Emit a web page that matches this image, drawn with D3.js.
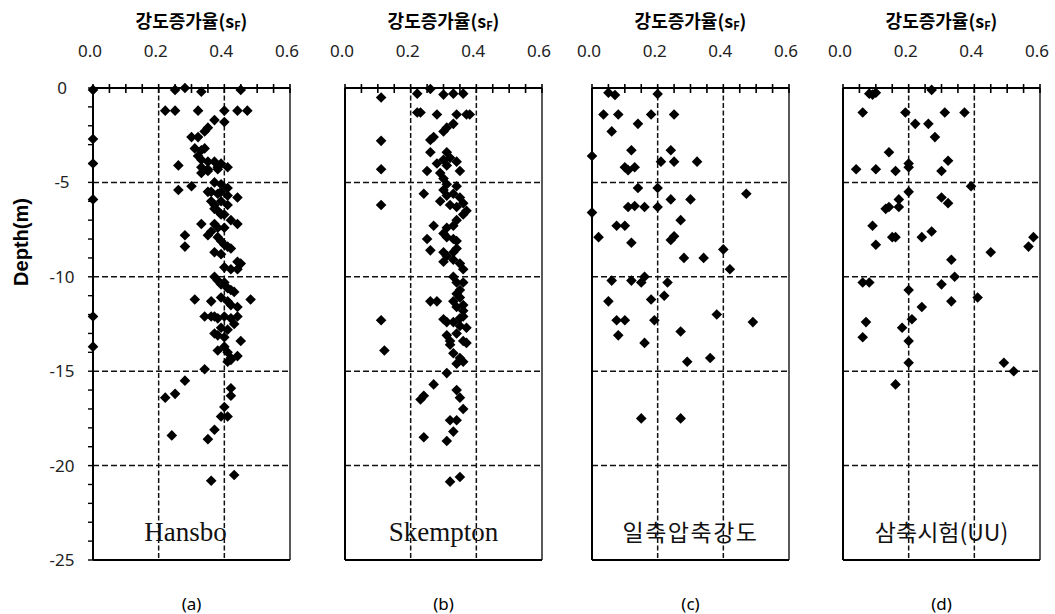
<!DOCTYPE html>
<html>
<head>
<meta charset="utf-8">
<script src="https://cdn.jsdelivr.net/npm/d3@7"></script>
<style>
  body { margin: 0; background: #fff; }
  svg { display: block; }
</style>
</head>
<body>
<div id="chart"></div>
<script>
// panel captions and tick labels
var panelNames = ["Hansbo", "Skempton", "일축압축강도", "삼축시험(UU)"];
var panelTags = ["(a)", "(b)", "(c)", "(d)"];
var xTicks = [0, 0.2, 0.4, 0.6];
var yTicks = [0, -5, -10, -15, -20, -25];

// [strength increase ratio sF, depth m]
var hansbo = [
  [0.00,-0.1],[0.25,-0.1],[0.28,0.0],[0.33,-0.2],[0.45,-0.1],
  [0.22,-1.2],[0.25,-1.2],[0.32,-1.2],[0.40,-1.2],[0.44,-1.2],[0.47,-1.2],
  [0.37,-1.7],[0.40,-1.8],[0.35,-2.1],[0.34,-2.3],[0.32,-2.6],[0.30,-2.6],[0.00,-2.7],
  [0.31,-3.2],[0.33,-3.3],[0.34,-3.2],[0.32,-3.6],[0.33,-3.8],[0.35,-3.9],[0.37,-3.9],[0.39,-4.0],[0.38,-4.2],
  [0.26,-4.1],[0.33,-4.2],[0.35,-4.3],[0.38,-4.3],[0.41,-4.2],[0.00,-4.0],
  [0.33,-4.5],[0.35,-4.4],[0.37,-5.0],[0.39,-5.1],[0.41,-5.3],
  [0.26,-5.4],[0.30,-5.2],[0.35,-5.5],[0.36,-5.5],[0.38,-5.6],[0.39,-5.5],[0.41,-5.7],[0.00,-5.9],[0.44,-5.8],
  [0.36,-6.0],[0.37,-6.2],[0.39,-6.0],[0.41,-6.2],[0.37,-6.4],[0.38,-6.5],[0.39,-6.7],[0.40,-6.7],[0.42,-7.0],[0.40,-7.4],
  [0.33,-7.2],[0.37,-7.2],[0.38,-7.4],[0.36,-7.6],[0.35,-7.8],[0.44,-7.2],[0.28,-7.8],[0.28,-8.4],
  [0.38,-7.9],[0.39,-8.1],[0.40,-8.3],[0.41,-8.4],[0.42,-8.5],[0.37,-8.7],[0.39,-8.8],
  [0.44,-9.2],[0.45,-9.3],[0.44,-9.6],[0.40,-9.5],[0.42,-9.6],
  [0.37,-10.0],[0.38,-10.2],[0.39,-10.4],[0.40,-10.3],[0.41,-10.6],[0.42,-10.7],[0.43,-10.8],
  [0.31,-11.2],[0.36,-11.3],[0.39,-11.1],[0.41,-11.3],[0.42,-11.5],[0.44,-11.6],[0.48,-11.2],
  [0.00,-12.1],[0.34,-12.1],[0.36,-12.1],[0.37,-12.1],[0.38,-12.2],[0.40,-12.1],[0.42,-12.2],[0.44,-12.1],[0.43,-12.5],
  [0.39,-12.7],[0.41,-12.8],[0.37,-13.0],[0.38,-13.1],[0.45,-13.4],[0.40,-13.2],
  [0.00,-13.7],[0.38,-13.9],[0.40,-13.7],[0.41,-14.0],[0.42,-14.3],[0.41,-14.5],[0.42,-14.4],[0.44,-14.2],
  [0.34,-14.9],[0.28,-15.5],[0.22,-16.4],[0.25,-16.2],[0.42,-15.9],[0.42,-16.3],[0.40,-16.9],
  [0.39,-17.4],[0.41,-17.4],[0.37,-18.1],[0.35,-18.6],[0.24,-18.4],[0.36,-20.8],[0.43,-20.5]
];

var skempton = [
  [0.11,-0.5],[0.22,-0.3],[0.26,-0.05],[0.30,-0.35],[0.33,-0.3],[0.36,-0.3],
  [0.22,-1.3],[0.23,-1.3],[0.28,-1.4],[0.34,-1.4],[0.37,-1.4],[0.38,-1.4],
  [0.33,-1.9],[0.31,-2.1],[0.30,-2.3],[0.27,-2.6],[0.26,-2.75],[0.11,-2.8],
  [0.26,-3.4],[0.31,-3.4],[0.32,-3.7],[0.30,-3.8],[0.28,-4.0],[0.31,-4.1],[0.34,-3.9],[0.35,-4.4],[0.11,-4.3],
  [0.25,-4.4],[0.29,-4.5],[0.30,-4.8],
  [0.31,-5.1],[0.34,-5.2],[0.24,-5.6],[0.30,-5.4],[0.31,-5.7],[0.33,-5.6],[0.35,-5.8],[0.29,-6.0],
  [0.32,-6.2],[0.34,-6.3],[0.36,-6.1],[0.37,-6.5],[0.36,-6.7],[0.11,-6.2],
  [0.34,-7.0],[0.33,-7.3],[0.31,-7.4],[0.30,-7.7],[0.27,-7.3],[0.31,-7.9],[0.33,-8.0],[0.34,-8.1],[0.25,-8.0],[0.26,-8.6],
  [0.30,-8.7],[0.31,-8.9],[0.33,-8.7],[0.34,-8.5],[0.30,-9.2],[0.33,-9.1],[0.35,-9.3],[0.36,-9.6],
  [0.33,-10.0],[0.34,-10.3],[0.36,-10.3],[0.35,-10.7],[0.34,-10.9],[0.35,-11.1],[0.33,-11.3],[0.34,-11.6],
  [0.36,-11.5],[0.36,-11.8],[0.26,-11.3],[0.28,-11.3],
  [0.11,-12.3],[0.30,-12.25],[0.31,-12.4],[0.33,-12.4],[0.35,-12.2],[0.36,-12.1],[0.35,-12.6],[0.37,-12.7],
  [0.31,-13.1],[0.34,-13.0],[0.32,-13.4],[0.36,-13.4],
  [0.12,-13.9],[0.32,-13.6],[0.37,-13.5],[0.33,-14.05],[0.35,-14.3],[0.36,-14.5],[0.34,-14.6],
  [0.31,-15.1],[0.27,-15.7],[0.24,-16.3],[0.23,-16.5],[0.34,-16.0],[0.35,-16.4],[0.36,-17.0],
  [0.32,-17.6],[0.34,-17.6],[0.33,-18.2],[0.24,-18.5],[0.31,-18.7],[0.32,-20.85],[0.35,-20.6]
];

var uniaxial = [
  [0.05,-0.25],[0.07,-0.37],[0.20,-0.32],
  [0.035,-1.4],[0.08,-1.4],[0.18,-1.4],[0.25,-1.4],[0.14,-1.9],[0.06,-2.3],
  [0.12,-3.3],[0.24,-3.3],[0.00,-3.6],[0.21,-3.9],[0.25,-3.9],[0.32,-3.9],[0.10,-4.2],[0.11,-4.35],[0.13,-4.2],
  [0.14,-5.3],[0.20,-5.3],[0.47,-5.6],[0.24,-5.9],[0.30,-5.9],
  [0.00,-6.6],[0.11,-6.3],[0.13,-6.25],[0.16,-6.3],[0.20,-6.3],[0.27,-7.0],[0.075,-7.3],[0.10,-7.3],
  [0.02,-7.9],[0.12,-8.2],[0.24,-8.05],[0.25,-7.85],
  [0.28,-9.0],[0.34,-9.0],[0.40,-8.55],[0.42,-9.6],
  [0.06,-10.2],[0.12,-10.2],[0.15,-10.3],[0.16,-10.0],[0.23,-10.3],[0.22,-11.0],[0.05,-11.3],[0.18,-11.2],
  [0.075,-12.3],[0.10,-12.3],[0.19,-12.3],[0.38,-12.0],[0.49,-12.4],[0.08,-13.1],[0.27,-12.9],[0.16,-13.5],
  [0.29,-14.5],[0.36,-14.3],[0.15,-17.5],[0.27,-17.5]
];

var triaxial = [
  [0.08,-0.3],[0.09,-0.35],[0.10,-0.25],[0.27,-0.1],
  [0.06,-1.3],[0.19,-1.3],[0.31,-1.3],[0.37,-1.3],[0.22,-1.9],[0.26,-1.9],[0.28,-2.6],
  [0.14,-3.4],[0.32,-3.85],[0.04,-4.3],[0.10,-4.3],[0.16,-4.4],[0.20,-4.0],[0.20,-4.2],[0.30,-4.4],
  [0.39,-5.2],[0.20,-5.5],[0.17,-5.9],[0.30,-5.8],[0.32,-6.1],[0.13,-6.4],[0.14,-6.3],[0.17,-6.3],
  [0.09,-7.3],[0.15,-7.9],[0.16,-7.9],[0.24,-7.9],[0.27,-7.6],[0.10,-8.3],[0.45,-8.7],[0.33,-9.1],
  [0.58,-7.9],[0.565,-8.4],
  [0.06,-10.3],[0.08,-10.3],[0.34,-10.0],[0.30,-10.4],[0.20,-10.7],[0.41,-11.1],[0.33,-11.3],[0.24,-11.6],
  [0.07,-12.4],[0.21,-12.25],[0.18,-12.7],[0.06,-13.2],[0.20,-13.4],[0.20,-14.55],[0.16,-15.7],
  [0.49,-14.55],[0.52,-15.0]
];

var panelData = [hansbo, skempton, uniaxial, triaxial];

var svgWidth = 1055;
var svgHeight = 614;
var lefts = [93, 345, 592, 843];
var pw = 197;
var plotTop = 88, plotBottom = 560;

var svg = d3.select("#chart")
    .append("svg")
    .attr("width", svgWidth)
    .attr("height", svgHeight)
    .style("font-family", "'Liberation Sans', Arial, sans-serif");

var yScale = d3.scaleLinear().domain([0, -25]).range([plotTop, plotBottom]);

// Depth title (only once, left side)
svg.append("text")
    .attr("transform", `translate(28, ${(plotTop + plotBottom) / 2 - 82}) rotate(-90)`)
    .attr("text-anchor", "middle")
    .attr("font-weight", "bold")
    .attr("font-size", "20px")
    .text("Depth(m)");

panelData.forEach(function(data, i) {
    var x0 = lefts[i];
    var xScale = d3.scaleLinear().domain([0, 0.6]).range([x0, x0 + pw]);
    var g = svg.append("g");

    // dashed grid
    g.selectAll(".vgrid")
        .data([0.2, 0.4])
        .enter()
        .append("line")
        .attr("class", "vgrid")
        .attr("x1", d => xScale(d)).attr("x2", d => xScale(d))
        .attr("y1", plotTop).attr("y2", plotBottom)
        .attr("stroke", "#111").attr("stroke-width", 1.5)
        .attr("stroke-dasharray", "5,2.5");
    g.selectAll(".hgrid")
        .data([-5, -10, -15, -20])
        .enter()
        .append("line")
        .attr("class", "hgrid")
        .attr("x1", x0).attr("x2", x0 + pw)
        .attr("y1", d => yScale(d)).attr("y2", d => yScale(d))
        .attr("stroke", "#111").attr("stroke-width", 1.5)
        .attr("stroke-dasharray", "6,3");

    // frame
    g.append("line").attr("x1", x0).attr("x2", x0).attr("y1", plotTop).attr("y2", plotBottom)
        .attr("stroke", "#000").attr("stroke-width", 2);
    g.append("line").attr("x1", x0 + pw).attr("x2", x0 + pw).attr("y1", plotTop).attr("y2", plotBottom)
        .attr("stroke", "#000").attr("stroke-width", 1.3);
    g.append("line").attr("x1", x0).attr("x2", x0 + pw).attr("y1", plotBottom).attr("y2", plotBottom)
        .attr("stroke", "#000").attr("stroke-width", 2);
    g.append("line").attr("x1", x0).attr("x2", x0 + pw).attr("y1", plotTop).attr("y2", plotTop)
        .attr("stroke", "#000").attr("stroke-width", 2.2);

    // minor ticks crossing the top axis, every 0.05
    g.selectAll(".xtick")
        .data(d3.range(0, 0.601, 0.05))
        .enter()
        .append("line")
        .attr("class", "xtick")
        .attr("x1", d => xScale(d)).attr("x2", d => xScale(d))
        .attr("y1", plotTop - 4).attr("y2", plotTop + 5)
        .attr("stroke", "#000").attr("stroke-width", 1.6);

    // tick labels
    g.selectAll(".xlab")
        .data(xTicks)
        .enter()
        .append("text")
        .attr("class", "xlab")
        .attr("x", d => xScale(d) - 3)
        .attr("y", 57)
        .attr("text-anchor", "middle")
        .attr("font-size", "17px")
        .attr("font-family", "'Noto Sans', sans-serif")
        .attr("fill", "#222")
        .text(d => d3.format(".1f")(d));

    // panel title 강도증가율(sF)
    var title = g.append("text")
        .attr("x", x0 + pw / 2)
        .attr("y", 28)
        .attr("text-anchor", "middle")
        .attr("font-family", "'Noto Sans CJK KR', sans-serif")
        .attr("font-weight", "bold")
        .attr("font-size", "18px");
    title.append("tspan").text("강도증가율(s");
    title.append("tspan").attr("font-size", "11px").attr("dy", "2").text("F");
    title.append("tspan").attr("dy", "-2").text(")");

    if (i === 0) {
        // left ticks every metre
        g.selectAll(".ytick")
            .data(d3.range(0, -25.1, -1))
            .enter()
            .append("line")
            .attr("class", "ytick")
            .attr("x1", x0 - 5).attr("x2", x0 + 1)
            .attr("y1", d => yScale(d)).attr("y2", d => yScale(d))
            .attr("stroke", "#000").attr("stroke-width", 1.4);

        g.selectAll(".ylab")
            .data(yTicks)
            .enter()
            .append("text")
            .attr("class", "ylab")
            .attr("x", x0 - 31)
            .attr("y", d => yScale(d))
            .attr("dy", "0.35em")
            .attr("text-anchor", "middle")
            .attr("font-size", "17px")
            .attr("font-family", "'Noto Sans', sans-serif")
            .attr("fill", "#222")
            .text(d => String(d));
    }

    // diamonds
    g.selectAll(".pt")
        .data(data)
        .enter()
        .append("path")
        .attr("class", "pt")
        .attr("d", "M0,-5.3L5.3,0L0,5.3L-5.3,0Z")
        .attr("transform", d => `translate(${xScale(d[0])}, ${yScale(d[1])})`)
        .attr("fill", "#000");

    // method label inside the panel
    var isKorean = i >= 2;
    g.append("text")
        .attr("x", x0 + pw / 2 - (i === 0 ? 6 : 0))
        .attr("y", 541)
        .attr("text-anchor", "middle")
        .attr("font-family", isKorean ? "'Noto Sans CJK KR', sans-serif" : "'Liberation Serif', 'Times New Roman', serif")
        .attr("font-size", isKorean ? "23px" : "27px")
        .attr("letter-spacing", i === 2 ? "1.5px" : "0px")
        .attr("fill", "#111")
        .text(panelNames[i]);

    // (a) (b) ...
    g.append("text")
        .attr("x", x0 + pw / 2)
        .attr("y", 610)
        .attr("text-anchor", "middle")
        .attr("font-family", "'Noto Sans', sans-serif")
        .attr("font-size", "17px")
        .text(panelTags[i]);
});
</script>
</body>
</html>
